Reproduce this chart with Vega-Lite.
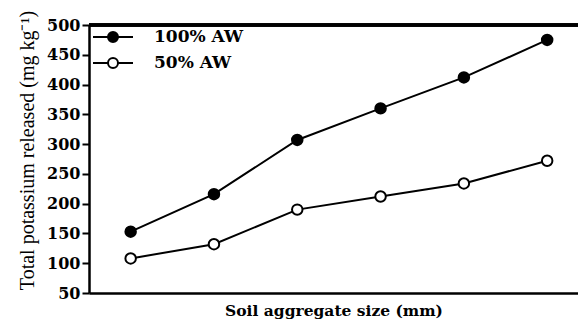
{
  "$schema": "https://vega.github.io/schema/vega-lite/v6.json",
  "width": 489,
  "height": 268,
  "autosize": {"type": "none"},
  "padding": {"left": 89, "top": 25, "right": 0, "bottom": 33},
  "background": "white",
  "config": {
    "view": {"stroke": null},
    "axis": {"grid": false, "domainColor": "black", "tickColor": "black", "labelColor": "black", "titleColor": "black"}
  },
  "data": {
    "values": [
      {"size": 1, "series": "100% AW", "k": 153},
      {"size": 2, "series": "100% AW", "k": 216},
      {"size": 3, "series": "100% AW", "k": 307},
      {"size": 4, "series": "100% AW", "k": 360},
      {"size": 5, "series": "100% AW", "k": 412},
      {"size": 6, "series": "100% AW", "k": 475},
      {"size": 1, "series": "50% AW", "k": 108},
      {"size": 2, "series": "50% AW", "k": 132},
      {"size": 3, "series": "50% AW", "k": 190},
      {"size": 4, "series": "50% AW", "k": 212},
      {"size": 5, "series": "50% AW", "k": 234},
      {"size": 6, "series": "50% AW", "k": 272}
    ]
  },
  "encoding": {
    "x": {
      "field": "size", "type": "quantitative",
      "scale": {"domain": [0.5, 6.37], "nice": false, "zero": false},
      "axis": {
        "title": "Soil aggregate size (mm)", "labels": false, "ticks": false,
        "domainWidth": 2.5, "titleFont": "DejaVu Serif", "titleFontWeight": "bold",
        "titleFontSize": 15.5, "titlePadding": 10
      }
    },
    "y": {
      "field": "k", "type": "quantitative",
      "scale": {"domain": [50, 500], "nice": false, "zero": false},
      "axis": {
        "title": "Total potassium released (mg kg⁻¹)", "values": [50,100,150,200,250,300,350,400,450,500],
        "domainWidth": 2.5, "tickWidth": 2, "tickSize": 7, "labelPadding": 2,
        "labelFont": "DejaVu Serif", "labelFontWeight": "bold", "labelFontSize": 16,
        "titleFont": "Liberation Serif", "titleFontWeight": "normal", "titleFontSize": 20,
        "titlePadding": 9, "titleY": 125
      }
    }
  },
  "layer": [
    {
      "mark": {"type": "rule", "color": "black", "strokeWidth": 2.5},
      "encoding": {"x": null, "y": {"datum": 500}}
    },
    {
      "mark": {"type": "line", "color": "black", "strokeWidth": 2},
      "encoding": {"detail": {"field": "series"}}
    },
    {
      "mark": {"type": "point", "filled": false, "stroke": "black", "strokeWidth": 2, "size": 110, "opacity": 1, "shape": "circle"},
      "encoding": {
        "fill": {
          "field": "series", "type": "nominal",
          "scale": {"domain": ["100% AW", "50% AW"], "range": ["black", "white"]},
          "legend": {
            "title": null, "orient": "none", "legendX": 13, "legendY": 1,
            "symbolType": "M-2,0L-0.5,0M0.5,0L2,0M-0.5,0A0.5,0.5,0,1,0,0.5,0A0.5,0.5,0,1,0,-0.5,0Z",
            "symbolSize": 400, "symbolStrokeColor": "black", "symbolStrokeWidth": 2,
            "symbolOpacity": 1, "labelOffset": 30, "rowPadding": 6, "padding": 0,
            "labelFont": "DejaVu Serif", "labelFontWeight": "bold", "labelFontSize": 17, "labelColor": "black"
          }
        }
      }
    }
  ]
}
